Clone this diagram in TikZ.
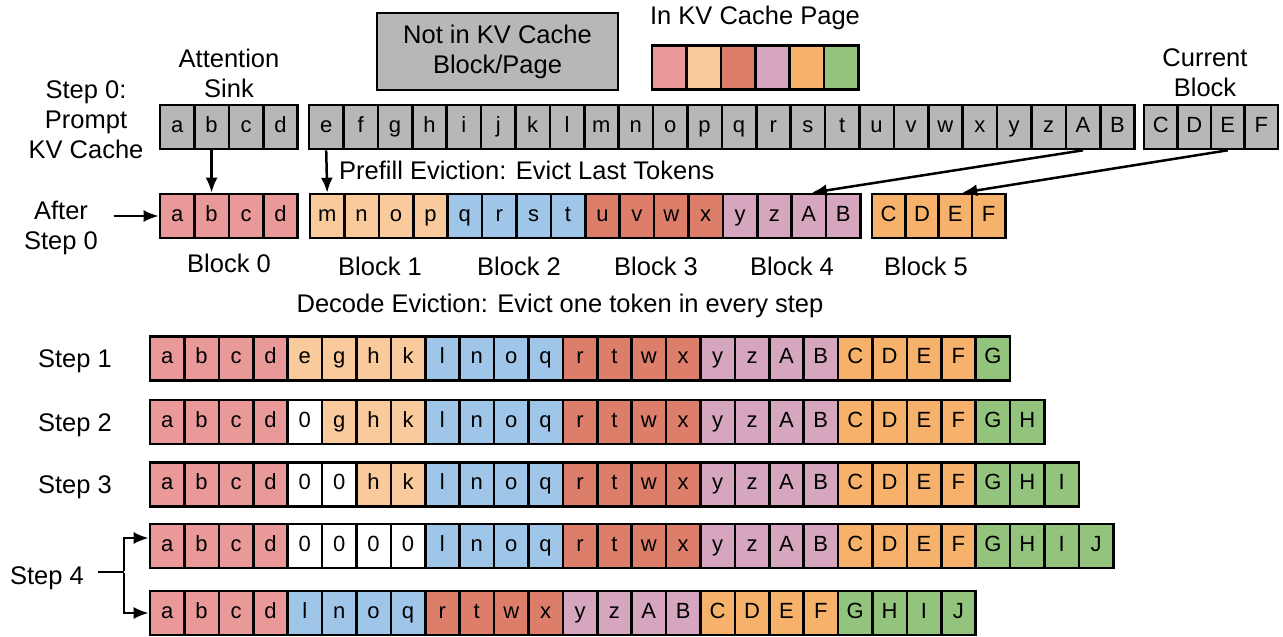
\documentclass[tikz,border=0pt]{standalone}
\usepackage{fontspec}
\setmainfont{Liberation Sans}
\usetikzlibrary{arrows.meta}
\definecolor{cgray}{HTML}{B7B7B7}
\definecolor{cpink}{HTML}{EA9999}
\definecolor{cpeach}{HTML}{F9CB9C}
\definecolor{cblue}{HTML}{9FC5E8}
\definecolor{cred}{HTML}{DD7E6B}
\definecolor{cmauve}{HTML}{D5A6BD}
\definecolor{corange}{HTML}{F6B26B}
\definecolor{cgreen}{HTML}{93C47D}
\tikzset{
  cell/.style={draw, line width=2.6pt, minimum height=44pt, inner sep=0pt,
    text height=15pt, text depth=4.5pt, font=\fontsize{22}{23}\selectfont},
  lbl/.style={font=\fontsize{25.5}{30}\selectfont, align=center, inner sep=0pt},
  arr/.style={line width=2.5pt, -{Latex[length=15pt,width=12pt]}},
  plain/.style={line width=2.5pt}
}
\newcommand\cellrow[5]{%
  \foreach \l/\c [count=\i] in {#5} {
    \node[cell, fill=\c, minimum width=#4] (#3-\i) at ({#1+(\i-0.5)*#4}, #2) {\l};
  }}
\begin{document}
\begin{tikzpicture}[x=1pt, y=-1pt]
\useasboundingbox (0,0) rectangle (1283,637);

% legend
\node[draw, line width=2.6pt, fill=cgray, minimum width=241pt, minimum height=77pt, lbl] (notin) at (497.5,51.5) {Not in KV Cache\\Block/Page};
\node[lbl] (inkv) at (755,18) {In KV Cache Page};
\cellrow{652}{67.5}{leg}{34.4}{/cpink,/cpeach,/cred,/cmauve,/corange,/cgreen}

% labels
\node[lbl] (sink) at (229,73) {Attention\\Sink};
\node[lbl] (step0) at (86,120) {Step 0:\\Prompt\\KV Cache};
\node[lbl] (after) at (61,228) {After\\Step 0};
\node[lbl] (curr) at (1205,73) {Current\\Block};
\node[lbl, anchor=west] (prefill) at (339,170) {Prefill Eviction: Evict Last Tokens};
\node[lbl] (b0) at (229,263) {Block 0};
\node[lbl] (b1) at (380,266) {Block 1};
\node[lbl] (b2) at (519,266) {Block 2};
\node[lbl] (b3) at (656,266) {Block 3};
\node[lbl] (b4) at (792,266) {Block 4};
\node[lbl] (b5) at (926,266) {Block 5};
\node[lbl] (decode) at (560,306) {Decode Eviction: Evict one token in every step};
\node[lbl] (s1) at (75,361) {Step 1};
\node[lbl] (s2) at (75,425) {Step 2};
\node[lbl] (s3) at (75,487) {Step 3};
\node[lbl] (s4) at (47,578) {Step 4};

% prompt row (gray)
\cellrow{160}{127}{top0}{34.4}{a/cgray,b/cgray,c/cgray,d/cgray}
\cellrow{309}{127}{top1}{34.4}{e/cgray,f/cgray,g/cgray,h/cgray,i/cgray,j/cgray,k/cgray,l/cgray,m/cgray,n/cgray,o/cgray,p/cgray,q/cgray,r/cgray,s/cgray,t/cgray,u/cgray,v/cgray,w/cgray,x/cgray,y/cgray,z/cgray,A/cgray,B/cgray}
\cellrow{1144}{127}{topc}{33.5}{C/cgray,D/cgray,E/cgray,F/cgray}

% after step 0
\cellrow{160}{216}{aft0}{34.4}{a/cpink,b/cpink,c/cpink,d/cpink}
\cellrow{310}{216}{aft1}{34.4}{m/cpeach,n/cpeach,o/cpeach,p/cpeach,q/cblue,r/cblue,s/cblue,t/cblue,u/cred,v/cred,w/cred,x/cred,y/cmauve,z/cmauve,A/cmauve,B/cmauve}
\cellrow{872}{216}{aft5}{33.3}{C/corange,D/corange,E/corange,F/corange}

% decode rows
\cellrow{150}{358.5}{r1}{34.4}{a/cpink,b/cpink,c/cpink,d/cpink,e/cpeach,g/cpeach,h/cpeach,k/cpeach,l/cblue,n/cblue,o/cblue,q/cblue,r/cred,t/cred,w/cred,x/cred,y/cmauve,z/cmauve,A/cmauve,B/cmauve,C/corange,D/corange,E/corange,F/corange,G/cgreen}
\cellrow{150}{422}{r2}{34.4}{a/cpink,b/cpink,c/cpink,d/cpink,0/white,g/cpeach,h/cpeach,k/cpeach,l/cblue,n/cblue,o/cblue,q/cblue,r/cred,t/cred,w/cred,x/cred,y/cmauve,z/cmauve,A/cmauve,B/cmauve,C/corange,D/corange,E/corange,F/corange,G/cgreen,H/cgreen}
\cellrow{150}{484.5}{r3}{34.4}{a/cpink,b/cpink,c/cpink,d/cpink,0/white,0/white,h/cpeach,k/cpeach,l/cblue,n/cblue,o/cblue,q/cblue,r/cred,t/cred,w/cred,x/cred,y/cmauve,z/cmauve,A/cmauve,B/cmauve,C/corange,D/corange,E/corange,F/corange,G/cgreen,H/cgreen,I/cgreen}
\cellrow{150}{546}{r4a}{34.4}{a/cpink,b/cpink,c/cpink,d/cpink,0/white,0/white,0/white,0/white,l/cblue,n/cblue,o/cblue,q/cblue,r/cred,t/cred,w/cred,x/cred,y/cmauve,z/cmauve,A/cmauve,B/cmauve,C/corange,D/corange,E/corange,F/corange,G/cgreen,H/cgreen,I/cgreen,J/cgreen}
\cellrow{150}{613}{r4b}{34.4}{a/cpink,b/cpink,c/cpink,d/cpink,l/cblue,n/cblue,o/cblue,q/cblue,r/cred,t/cred,w/cred,x/cred,y/cmauve,z/cmauve,A/cmauve,B/cmauve,C/corange,D/corange,E/corange,F/corange,G/cgreen,H/cgreen,I/cgreen,J/cgreen}

% arrows
\draw[arr] (top0-2.south) -- (aft0-2.north);
\draw[arr] (top1-1.south) -- (aft1-1.north);
\draw[arr] (top1-23.south) -- ([xshift=3pt]aft1-15.north);
\draw[arr] (topc-3.south) -- ([xshift=7pt]aft5-3.north);
\draw[arr] ([xshift=-45pt]aft0-1.west) -- (aft0-1.west);

% step 4 bracket
\coordinate (brs) at (98,572);
\coordinate (br) at (124,572);
\draw[plain] (brs) -- (br);
\draw[arr] ([yshift=1.25pt]br) |- ([yshift=8pt]r4a-1.west);
\draw[arr] ([yshift=-1.25pt]br) |- (r4b-1.west);
\end{tikzpicture}
\end{document}
